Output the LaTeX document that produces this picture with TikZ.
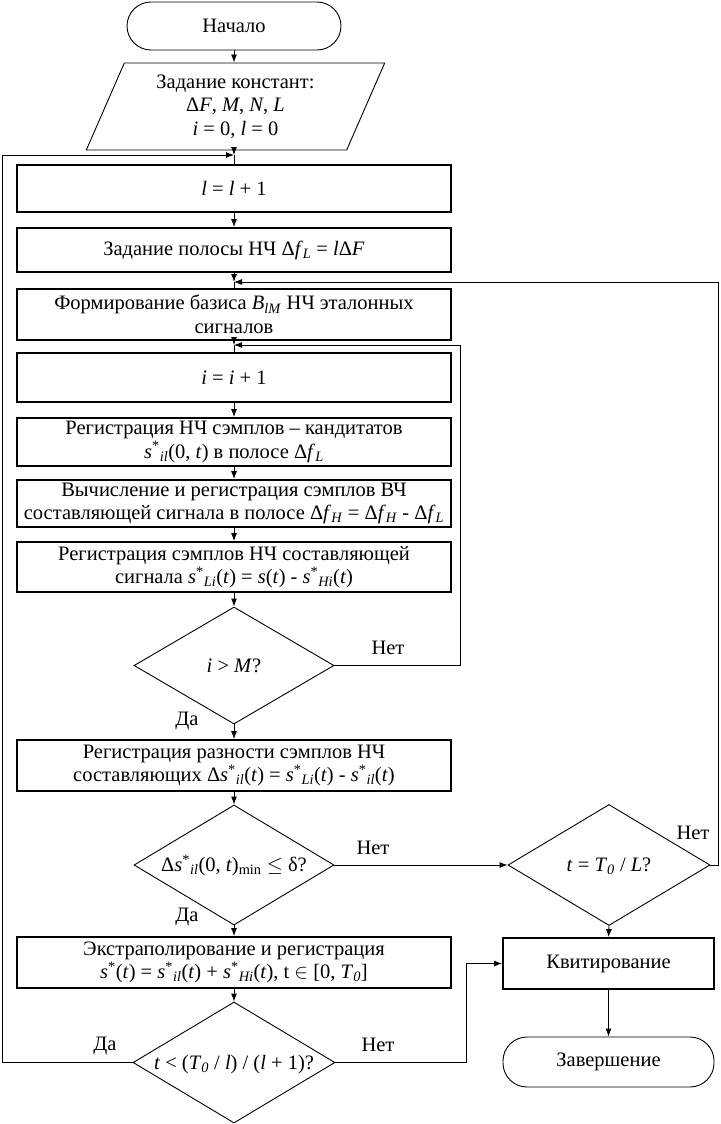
\documentclass[tikz,border=0pt]{standalone}
\usepackage{fontspec}
\setmainfont{Liberation Serif}
\usetikzlibrary{shapes.geometric,arrows.meta}
\newcommand\mv[1]{\textit{#1}}
\newcommand\lo[1]{\textsubscript{\textit{#1}}}
\newcommand\st{\textsuperscript{*}}
\newcommand\dtext[1]{\raisebox{-.32em}[0pt][0pt]{#1}}
\begin{document}
\begin{tikzpicture}[x=1pt,y=-1pt,
  every node/.style={font=\fontsize{20.5}{23.5}\selectfont},
  proc/.style={draw, line width=1.8pt, minimum width=434pt, inner sep=1pt, align=center},
  term/.style={draw, line width=0.9pt, rounded corners=24pt, align=center},
  dec/.style={draw, diamond, line width=0.9pt, inner sep=0pt, aspect=1.67},
  conn/.style={line width=0.9pt},
  arr/.style={conn, -{Latex[length=8pt,width=6pt]}},
  lbl/.style={inner sep=0pt}]
\useasboundingbox (0,0) rectangle (720,1124);

% nodes
\node[term, minimum width=214pt, minimum height=48pt] (start) at (234,26) {Начало};
\node[trapezium, draw, line width=0.9pt, trapezium left angle=67, trapezium right angle=113,
      trapezium stretches=true, minimum width=299pt, minimum height=87pt, inner sep=0pt, align=center]
      (consts) at (235.5,106.5) {Задание констант:\\ Δ\mv{F}, \mv{M}, \mv{N}, \mv{L}\\ \mv{i} = 0, \mv{l} = 0};
\node[proc, minimum height=47pt] (b1) at (234,188.5) {\mv{l} = \mv{l} + 1};
\node[proc, minimum height=44pt] (b2) at (234,250) {Задание полосы НЧ Δ\mv{f}\lo{L} = \mv{l}Δ\mv{F}};
\node[proc, minimum height=51pt] (b3) at (234,314.5) {Формирование базиса \mv{B}\lo{lM} НЧ эталонных\\сигналов};
\node[proc, minimum height=49pt] (b4) at (234,377.5) {\mv{i} = \mv{i} + 1};
\node[proc, minimum height=48pt] (b5) at (234,442) {Регистрация НЧ сэмплов – кандитатов\\\mv{s}\st\lo{il}(0, \mv{t}) в полосе Δ\mv{f}\lo{L}};
\node[proc, minimum height=47pt] (b6) at (234,503.5) {Вычисление и регистрация сэмплов ВЧ\\составляющей сигнала в полосе Δ\mv{f}\lo{H} = Δ\mv{f}\lo{H} - Δ\mv{f}\lo{L}};
\node[proc, minimum height=50pt] (b7) at (234,567) {Регистрация сэмплов НЧ составляющей\\сигнала \mv{s}\st\lo{Li}(\mv{t}) = \mv{s}(\mv{t}) - \mv{s}\st\lo{Hi}(\mv{t})};
\node[dec, minimum width=200pt, minimum height=117pt] (d1) at (234,665.5) {\dtext{\mv{i} > \mv{M}?}};
\node[proc, minimum height=51pt] (b8) at (234,765.5) {Регистрация разности сэмплов НЧ\\составляющих Δ\mv{s}\st\lo{il}(\mv{t}) = \mv{s}\st\lo{Li}(\mv{t}) - \mv{s}\st\lo{il}(\mv{t})};
\node[dec, minimum width=200pt, minimum height=120pt] (d2) at (234,865) {\dtext{Δ\mv{s}\st\lo{il}(0, \mv{t})\textsubscript{min} $\le$ δ?}};
\node[proc, minimum height=51pt] (b9) at (234,962.5) {Экстраполирование и регистрация\\\mv{s}\st(\mv{t}) = \mv{s}\st\lo{il}(\mv{t}) + \mv{s}\st\lo{Hi}(\mv{t}), t $\in$ [0, \mv{T}\lo{0}]};
\node[dec, minimum width=202pt, minimum height=121pt] (d3) at (234,1062.5) {\dtext{\mv{t} < (\mv{T}\lo{0} / \mv{l}) / (\mv{l} + 1)?}};
\node[dec, minimum width=202pt, minimum height=121pt] (d4) at (609,865) {\dtext{\mv{t} = \mv{T}\lo{0} / \mv{L}?}};
\node[proc, minimum width=211pt, minimum height=51pt] (kvit) at (608.5,963.5) {Квитирование};
\node[term, minimum width=211pt, minimum height=50pt] (end) at (608.5,1062) {Завершение};

% labels
\node[lbl] (n1) at (388,648) {Нет};
\node[lbl] (y1) at (187,721) {Да};
\node[lbl] (n2) at (373,848) {Нет};
\node[lbl] (y2) at (187,917) {Да};
\node[lbl] (y3) at (105,1046) {Да};
\node[lbl] (n3) at (378,1045) {Нет};
\node[lbl] (n4) at (693,833) {Нет};

% junctions
\coordinate (j1) at (234,155);
\coordinate (j2) at (234,282);
\coordinate (j3) at (234,345);
\coordinate (lx) at (2,155);
\coordinate (rx) at (718,282);
\coordinate (mx) at (460,345);
\coordinate (kx) at (466,963.5);

% connectors
\draw[arr] (start.south) -- (start.south |- consts.north);
\draw[arr] (j1 |- consts.south) -- (j1);
\draw[conn] (j1) -- (b1.north);
\draw[arr] (b1.south) -- (b2.north);
\draw[arr] (b2.south) -- (j2);
\draw[conn] (j2) -- (b3.north);
\draw[arr] (b3.south) -- (j3);
\draw[conn] (j3) -- (b4.north);
\draw[arr] (b4.south) -- (b5.north);
\draw[arr] (b5.south) -- (b6.north);
\draw[arr] (b6.south) -- (b7.north);
\draw[arr] (b7.south) -- (d1.north);
\draw[arr] (d1.south) -- (b8.north);
\draw[arr] (d1.east) -| (mx) -- (j3);
\draw[arr] (b8.south) -- (d2.north);
\draw[arr] (d2.east) -- (d4.west);
\draw[arr] (d2.south) -- (b9.north);
\draw[arr] (b9.south) -- (d3.north);
\draw[arr] (d3.west) -| (lx) -- (j1);
\draw[arr] (d3.east) -| (kx) -- (kvit.west);
\draw[arr] (d4.south) -- (kvit.north);
\draw[arr] (d4.east) -| (rx) -- (j2);
\draw[arr] (kvit.south) -- (end.north);
\end{tikzpicture}
\end{document}
